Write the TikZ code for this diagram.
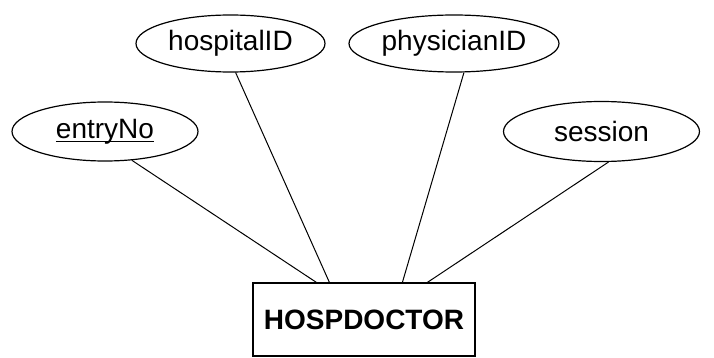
\documentclass[tikz,border=0pt]{standalone}
\usepackage{fontspec}
\setmainfont{Liberation Sans}
\usetikzlibrary{shapes.geometric,calc}
\newsavebox{\ulbox}
\newcommand{\keyword}[1]{\sbox{\ulbox}{#1}\rlap{\rule[-4pt]{\wd\ulbox}{1.5pt}}\usebox{\ulbox}}
\tikzset{
  attr/.style={draw, ellipse, line width=1.2pt, inner sep=0pt, font=\fontsize{28}{30}\selectfont},
  entity/.style={draw, rectangle, line width=1.2pt, inner sep=0pt, font=\fontsize{28}{30}\selectfont\bfseries},
  link/.style={line width=1pt}
}
\begin{document}
\begin{tikzpicture}[x=1pt,y=-1pt]
\useasboundingbox (0,0) rectangle (714,358);
\node[attr, minimum width=186, minimum height=59] (e1) at (105,131.5) {\keyword{entryNo}};
\node[attr, minimum width=189, minimum height=57] (e2) at (230.5,43.5) {hospitalID};
\node[attr, minimum width=210, minimum height=57] (e3) at (454,43.5) {physicianID};
\node[attr, minimum width=196, minimum height=60] (e4) at (601.5,131.5) {session};
\node[entity, minimum width=222, minimum height=73] (r) at (364,319.5) {HOSPDOCTOR};
\coordinate (p1) at ($(r.north west)+(64,0)$);
\coordinate (p2) at ($(r.north west)+(77,0)$);
\coordinate (p3) at ($(r.north west)+(150,0)$);
\coordinate (p4) at ($(r.north west)+(175,0)$);
\draw[link] (e1.-47) -- (p1);
\draw[link] (e2.-80) -- (p2);
\draw[link] (e3.-71) -- (p3);
\draw[link] (e4.-77) -- (p4);
\end{tikzpicture}
\end{document}
